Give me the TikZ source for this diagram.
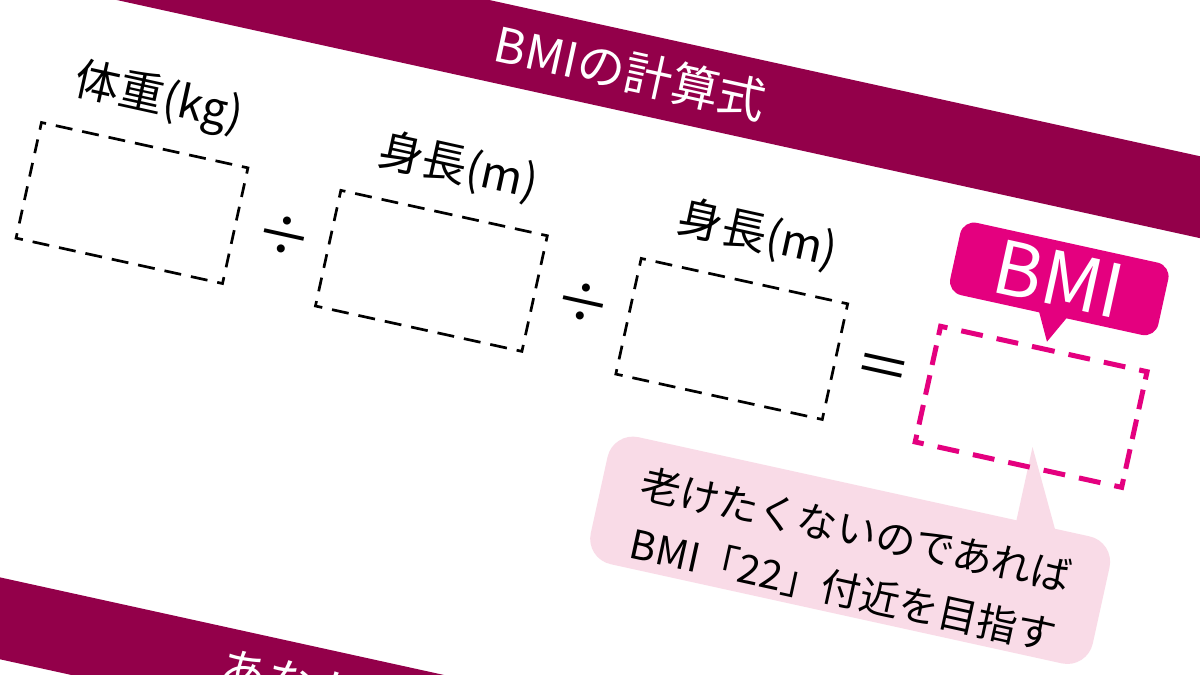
\documentclass[tikz,border=0pt]{standalone}
\usepackage{fontspec}
\newfontfamily\jp{Noto Sans CJK JP}
\definecolor{band}{HTML}{93004A}
\definecolor{mag}{HTML}{E4007F}
\definecolor{pinkbg}{HTML}{F9DBE7}
\begin{document}
\begin{tikzpicture}[x=1pt,y=1pt,
  bandst/.style={fill=band, minimum width=2400, minimum height=80, inner sep=0pt, text=white, font=\jp\fontsize{48}{54}\selectfont},
  boxst/.style={minimum width=211, minimum height=118, inner sep=0pt},
  lbl/.style={font=\jp\fontsize{45}{50}\selectfont, text=black, inner sep=0pt},
  opst/.style={font=\jp\fontsize{56}{60}\selectfont, text=black, inner sep=0pt},
  bmibub/.style={fill=mag, rounded corners=14, minimum width=213, minimum height=74, inner sep=0pt, text=white, font=\jp\fontsize{74}{80}\selectfont},
  pinkbub/.style={fill=pinkbg, rounded corners=26, minimum width=514, minimum height=130, inner sep=0pt},
  pinktxt/.style={font=\jp\fontsize{40}{61}\selectfont, align=center, text=black, inner sep=0pt},
  blackdash/.style={draw=black, line width=2.7pt, line join=miter,
    dash pattern=on 17pt off 10pt on 17pt off 10pt on 17pt off 10pt on 17pt off 10pt on 12pt
      off 10pt on 14pt off 10pt on 14pt off 10pt on 14pt off 10pt on 14pt off 10pt on 12pt
      off 10pt on 17pt off 10pt on 17pt off 10pt on 17pt off 10pt on 17pt off 10pt on 17pt off 10pt on 17pt off 10pt on 17pt off 10pt on 12pt
      off 10pt on 14pt off 10pt on 14pt off 10pt on 14pt off 10pt on 14pt off 10pt on 12pt
      off 10pt on 17pt off 10pt on 17pt off 10pt on 17pt off 10pt,
    dash phase=8.5pt},
  magdash/.style={draw=mag, line width=5pt, line join=miter,
    dash pattern=on 22pt off 14.2pt on 22pt off 14.2pt on 22pt off 14.2pt on 16pt
      off 10.5pt on 20pt off 10.5pt on 20pt off 10.5pt on 20pt off 10.5pt on 16pt
      off 14.2pt on 22pt off 14.2pt on 22pt off 14.2pt on 22pt off 14.2pt on 22pt off 14.2pt on 22pt off 14.2pt on 16pt
      off 10.5pt on 20pt off 10.5pt on 20pt off 10.5pt on 20pt off 10.5pt on 16pt
      off 14.2pt on 22pt off 14.2pt on 22pt off 14.2pt,
    dash phase=11pt}
]
\useasboundingbox (0,0) rectangle (1200,-675);
\fill[white] (0,0) rectangle (1200,-675);
\clip (0,0) rectangle (1200,-675);
\begin{scope}[shift={(132,-203)}, rotate=-12.4, every node/.append style={transform shape}]
  % bands
  \node[bandst] (title) at (459,235) {BMIの計算式};
  \node[bandst] (sub) at (258,-434) {あなた};
  % pink speech bubble
  \node[pinkbub] (pink) at (776,-185) {};
  \coordinate (ptip) at (932,-45);
  \fill[pinkbg] (932,-125) -- (ptip) -- (974,-125) -- cycle;
  \node[pinktxt] (msg) at (778,-194.5) {老けたくないのであれば\\BMI「22」付近を目指す};
  % boxes
  \node[boxst] (b1) at (0,0) {};
  \node[boxst] (b2) at (307,-2) {};
  \node[boxst] (b3) at (615,-4) {};
  \node[boxst] (b4) at (922,-6) {};
  \foreach \b in {b1,b2,b3} {
    \path[blackdash] (\b.north) -- (\b.north east) -- (\b.south east) -- (\b.south west) -- (\b.north west) -- cycle;
  }
  \path[magdash] (b4.north) -- (b4.north east) -- (b4.south east) -- (b4.south west) -- (b4.north west) -- cycle;
  % labels
  \node[lbl] (l1) at (4,107) {体重(kg)};
  \node[lbl] (l2) at (311,105) {身長(m)};
  \node[lbl] (l3) at (618,103) {身長(m)};
  % operators
  \node[opst] (d1) at (156,0) {÷};
  \node[opst] (d2) at (462,-1) {÷};
  \node[opst] (eq) at (769,-4) {＝};
  % BMI bubble
  \node[bmibub] (bmi) at (922,125) {BMI};
  \coordinate (btip) at (923.5,61);
  \fill[mag] (906,95) -- (btip) -- (941,95) -- cycle;
\end{scope}
\end{tikzpicture}
\end{document}
